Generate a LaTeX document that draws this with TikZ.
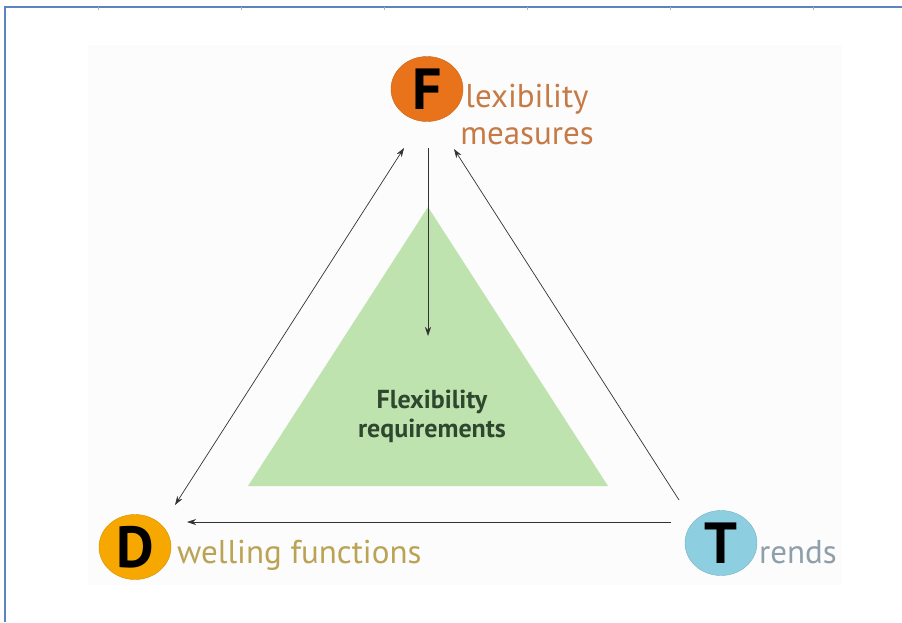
\documentclass[tikz,border=0pt]{standalone}
\usepackage{fontspec}
\setmainfont{PT Sans}
\usetikzlibrary{arrows.meta, positioning, shapes.geometric}

\definecolor{frameblue}{HTML}{5B85C0}
\definecolor{measorange}{HTML}{E8731A}
\definecolor{measword}{HTML}{C67A45}
\definecolor{dwellyellow}{HTML}{F7A800}
\definecolor{dwellword}{HTML}{BBA355}
\definecolor{trendblue}{HTML}{8DCFE0}
\definecolor{trendword}{HTML}{8E9FAA}
\definecolor{reqgreen}{HTML}{BEE3AF}
\definecolor{reqword}{HTML}{2E472E}

\begin{document}
\begin{tikzpicture}[x=1pt, y=-1pt,
initial/.style={ellipse, draw=#1!85!black, fill=#1, minimum width=72pt, minimum height=65pt,
inner sep=0pt, font=\bfseries\fontsize{58}{58}\selectfont},
word/.style={inner sep=0pt, font=\fontsize{33}{37}\selectfont},
>={Stealth[length=9pt, width=6pt]},
link/.style={draw=black!80, line width=0.7pt}]

\useasboundingbox (0,0) rectangle (902,622);
\fill[black!1] (88,45) rectangle (842,585);
\draw[frameblue, line width=1.6pt] (5,622) -- (5,7) -- (902,7);
\foreach \x in {98, 241, 384, 527, 670, 813} {
\draw[frameblue!60, line width=0.5pt] (\x,7) -- (\x,10);
};

\fill[reqgreen] (248,486) -- (608,486) -- (428,207) -- cycle;
\node (req) [align=center, text=reqword, inner sep=0pt,
font=\bfseries\fontsize{26}{29}\selectfont] at (432,416) {Flexibility\\requirements};

\node (F) [initial=measorange] at (427,89) {F};
\node (D) [initial=dwellyellow] at (135,547) {D};
\node (T) [initial=trendblue] at (721,543) {T};

\node (Fword) [word, text=measword, align=center, anchor=north] at (527,84) {lexibility\\measures};
\node (Dword) [word, text=dwellword, anchor=base west] at (177,563) {welling functions};
\node (Tword) [word, text=trendword, anchor=base west] at (759,563) {rends};

\coordinate (fr) at (428,148);
\coordinate (rf) at (428,336);
\coordinate (fd) at (404,148);
\coordinate (df) at (175,505);
\coordinate (ft) at (454,149);
\coordinate (tf) at (679,500);
\coordinate (td) at (671,522);
\coordinate (dt) at (187,522);

\draw[link, ->] (fr) -- (rf);
\draw[link, <->] (fd) -- (df);
\draw[link, ->] (tf) -- (ft);
\draw[link, ->] (td) -- (dt);

\end{tikzpicture}
\end{document}
